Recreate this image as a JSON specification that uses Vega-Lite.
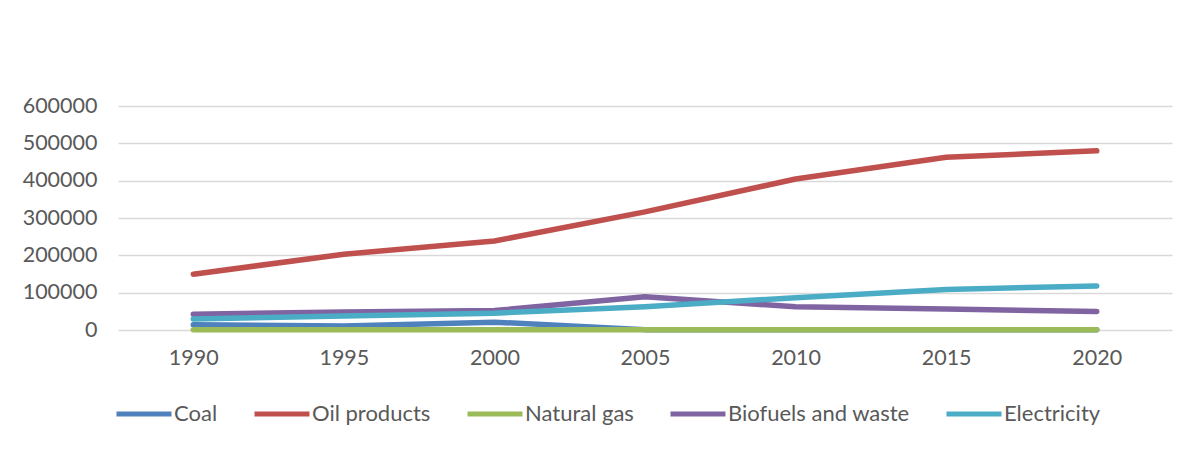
{
  "$schema": "https://vega.github.io/schema/vega-lite/v6.json",
  "autosize": "none",
  "width": 1054,
  "height": 224,
  "padding": {"left": 118, "top": 106, "right": 25, "bottom": 120},
  "background": "white",
  "config": {
    "view": {"stroke": null},
    "font": "Lato",
    "axis": {
      "labelFont": "Lato",
      "labelFontSize": 21.5,
      "labelColor": "#595959",
      "gridColor": "#d9d9d9",
      "gridWidth": 1.5,
      "ticks": false,
      "domain": false,
      "title": null
    }
  },
  "data": {
    "values": [
      {"year": "1990", "source": "Coal", "value": 14000},
      {"year": "1995", "source": "Coal", "value": 11000},
      {"year": "2000", "source": "Coal", "value": 21000},
      {"year": "2005", "source": "Coal", "value": 1000},
      {"year": "2010", "source": "Coal", "value": 500},
      {"year": "2015", "source": "Coal", "value": 500},
      {"year": "2020", "source": "Coal", "value": 500},
      {"year": "1990", "source": "Oil products", "value": 149500},
      {"year": "1995", "source": "Oil products", "value": 203000},
      {"year": "2000", "source": "Oil products", "value": 238500},
      {"year": "2005", "source": "Oil products", "value": 316500},
      {"year": "2010", "source": "Oil products", "value": 404500},
      {"year": "2015", "source": "Oil products", "value": 462500},
      {"year": "2020", "source": "Oil products", "value": 480000},
      {"year": "1990", "source": "Natural gas", "value": 800},
      {"year": "1995", "source": "Natural gas", "value": 800},
      {"year": "2000", "source": "Natural gas", "value": 800},
      {"year": "2005", "source": "Natural gas", "value": 800},
      {"year": "2010", "source": "Natural gas", "value": 800},
      {"year": "2015", "source": "Natural gas", "value": 900},
      {"year": "2020", "source": "Natural gas", "value": 1000},
      {"year": "1990", "source": "Biofuels and waste", "value": 42000},
      {"year": "1995", "source": "Biofuels and waste", "value": 48500},
      {"year": "2000", "source": "Biofuels and waste", "value": 52000},
      {"year": "2005", "source": "Biofuels and waste", "value": 89000},
      {"year": "2010", "source": "Biofuels and waste", "value": 62000},
      {"year": "2015", "source": "Biofuels and waste", "value": 56000},
      {"year": "2020", "source": "Biofuels and waste", "value": 49500},
      {"year": "1990", "source": "Electricity", "value": 29500},
      {"year": "1995", "source": "Electricity", "value": 37500},
      {"year": "2000", "source": "Electricity", "value": 45000},
      {"year": "2005", "source": "Electricity", "value": 62500},
      {"year": "2010", "source": "Electricity", "value": 86500},
      {"year": "2015", "source": "Electricity", "value": 108500},
      {"year": "2020", "source": "Electricity", "value": 118000}
    ]
  },
  "mark": {"type": "line", "strokeWidth": 5.5, "strokeCap": "round", "strokeJoin": "round"},
  "encoding": {
    "x": {
      "field": "year",
      "type": "ordinal",
      "scale": {"type": "point", "padding": 0.5},
      "axis": {"labelAngle": 0, "labelPadding": 17, "grid": false}
    },
    "y": {
      "field": "value",
      "type": "quantitative",
      "scale": {"domain": [0, 600000], "nice": false},
      "axis": {"values": [0, 100000, 200000, 300000, 400000, 500000, 600000], "format": "d", "labelPadding": 21}
    },
    "color": {
      "field": "source",
      "type": "nominal",
      "scale": {
        "domain": ["Coal", "Oil products", "Natural gas", "Biofuels and waste", "Electricity"],
        "range": ["#4F81BD", "#C0504D", "#9BBB59", "#8064A2", "#4BACC6"]
      },
      "legend": {
        "orient": "none",
        "legendX": -4,
        "legendY": 278,
        "direction": "horizontal",
        "columns": 5,
        "title": null,
        "symbolType": "stroke",
        "symbolSize": 3025,
        "symbolStrokeWidth": 5,
        "labelFont": "Lato",
        "labelFontSize": 22,
        "labelColor": "#595959",
        "labelOffset": 0,
        "labelLimit": 400,
        "columnPadding": 26
      }
    },
    "order": {"field": "source"}
  }
}
